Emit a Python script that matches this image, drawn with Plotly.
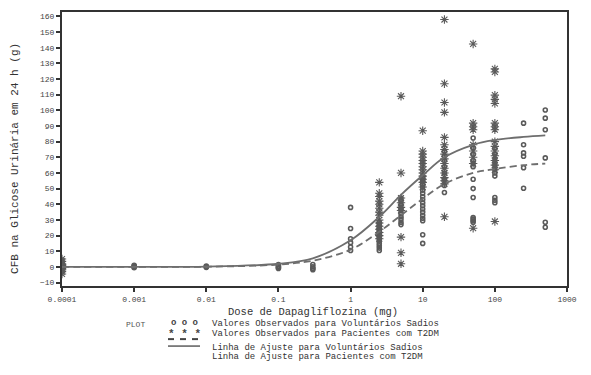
import plotly.graph_objects as go

# ---------------- data ----------------
healthy_dose = (
    [0.0001] * 12 + [0.001] * 4 + [0.01] * 3 + [0.1] * 5 + [0.3] * 4 +
    [1] * 6 + [2.5] * 13 + [5] * 10 + [10] * 17 + [20] * 8 + [50] * 13 +
    [100] * 10 + [250] * 6 + [500] * 6
)
healthy_cfb = (
    [4, 3, 2.5, 2, 1.5, 1, 0.5, 0, -0.5, -1, -1.5, 0.8] +
    [1, 0.5, 0, -0.5] +
    [0.5, 0, -0.3] +
    [1.5, 0.5, 0, -0.5, -1] +
    [1.5, 0, -1, -1.8] +
    [38, 24.5, 18, 15.5, 12.7, 10.5] +
    [28.5, 27, 25.5, 24, 22.5, 21, 19.5, 18, 16.5, 15, 13.5, 12, 10.5] +
    [44, 42, 40, 38, 36, 34, 32, 30.5, 28.5, 27] +
    [57, 55, 53, 51, 49, 47, 45, 43, 41, 39, 37, 35, 33, 31, 29.5, 20.5, 15] +
    [74, 71, 68, 64, 60, 56, 52, 47.5] +
    [82.3, 76, 72, 68, 66, 64, 56, 50, 44.3, 31.5, 30.5, 29.5, 28.5] +
    [76, 72, 68, 65, 62, 60, 58, 44.3, 42.5, 41] +
    [91.8, 78, 72.8, 70.7, 63.3, 50.2] +
    [100.2, 95, 87.6, 69.6, 28.5, 25.3]
)

t2dm_dose = (
    [0.0001] * 12 + [2.5] * 15 + [5] * 9 + [10] * 13 + [20] * 16 +
    [50] * 9 + [100] * 16
)
t2dm_cfb = (
    [5, 3.5, 2, 1, 0, -1, -2, -3, -4.5, 1.5, -1.5, 0.5] +
    [54, 47, 45, 42, 40, 37.5, 35, 33, 30, 28, 26, 24, 22, 20, 18] +
    [109, 60, 44, 41, 38, 36, 19, 9, 2] +
    [87, 74, 72, 70, 68, 66, 64, 62, 60, 58, 56, 54, 51] +
    [158, 117, 105, 98.7, 82.7, 78, 75, 72, 69, 66, 63, 60, 57, 55, 53, 32] +
    [142.4, 91.8, 89.5, 87.6, 78, 74, 70, 66, 24.7] +
    [126.5, 124.5, 109.7, 107, 104.4, 91.8, 89.5, 87.6, 80, 77, 74, 71, 68, 65, 62, 29]
)

fit_dose = [0.0001, 0.001, 0.01, 0.1, 0.3, 1, 2.5, 5, 10, 20, 50, 100, 250, 500]
fit_healthy = [0, 0, 0.2, 2, 5.5, 17, 32, 46, 58.5, 70, 78, 81, 83, 84]
fit_t2dm = [0, 0, 0.1, 1.5, 4, 11, 22.5, 33, 43.5, 53, 60, 62.5, 65, 66]

x_tickvals = [0.0001, 0.001, 0.01, 0.1, 1, 10, 100, 1000]
x_ticktext = ["0.0001", "0.001", "0.01", "0.1", "1", "10", "100", "1000"]
y_tickvals = list(range(-10, 161, 10))

legend_labels = [
    "Valores Observados para Voluntários Sadios",
    "Valores Observados para Pacientes com T2DM",
    "Linha de Ajuste para Voluntários Sadios",
    "Linha de Ajuste para Pacientes com T2DM",
]

# ---------------- figure ----------------
MONO = "Liberation Mono, Courier New, monospace"
PT_COL = "#5a5a5a"
LINE_COL = "#6e6e6e"

fig = go.Figure()
fig.add_trace(go.Scatter(
    x=healthy_dose, y=healthy_cfb, mode="markers", showlegend=False,
    marker=dict(symbol="circle-open", size=4, color=PT_COL, line=dict(width=1.6, color=PT_COL)),
))
fig.add_trace(go.Scatter(
    x=t2dm_dose, y=t2dm_cfb, mode="markers", showlegend=False,
    marker=dict(symbol="asterisk-open", size=7, color=PT_COL, line=dict(width=1.1, color=PT_COL)),
))
fig.add_trace(go.Scatter(
    x=fit_dose, y=fit_t2dm, mode="lines", line_shape="spline", showlegend=False,
    line=dict(color=LINE_COL, width=1.8, dash="7px,4px"),
))
fig.add_trace(go.Scatter(
    x=fit_dose, y=fit_healthy, mode="lines", line_shape="spline", showlegend=False,
    line=dict(color=LINE_COL, width=1.8),
))

# page has an 8px body margin: work in page pixels, convert to figure
OFF = 8
W, H = 591 - 2 * OFF, 375 - 2 * OFF
L, R, T, B = 62, 567, 10, 286  # plot area in page pixels


def px(xp):
    return (xp - L) / (R - L)


def py(yp):
    return (B - yp) / (B - T)


def note(text, xp, yp, size, color="#333", xanchor="center", angle=0):
    return dict(text=text, x=px(xp), y=py(yp), xref="paper", yref="paper",
                xanchor=xanchor, yanchor="middle", textangle=angle,
                showarrow=False, font=dict(family=MONO, size=size, color=color))


annotations = [
    note("PLOT", 135, 325, 8, "#555"),
    note("<b>o o o</b>", 184, 323.5, 9, "#444"),
    note("<b>* * *</b>", 184, 334.5, 11, "#444"),
    note("CFB na Glicose Urinária em 24 h (g)", 15, 158, 11, angle=-90),
    note("Dose de Dapagliflozina (mg)", 313, 312, 10.5),
]
for lbl, yp in zip(legend_labels, [324.5, 334, 348, 357.5]):
    annotations.append(note(lbl, 210, yp, 9, xanchor="left"))

shapes = []
for x0 in (168, 180, 192):
    shapes.append(dict(type="line", xref="paper", yref="paper",
                       x0=px(x0), x1=px(x0 + 6), y0=py(339.5), y1=py(339.5),
                       line=dict(color="#444", width=2)))
shapes.append(dict(type="line", xref="paper", yref="paper",
                   x0=px(168), x1=px(200), y0=py(346.5), y1=py(346.5),
                   line=dict(color="#444", width=1.3)))

fig.update_layout(
    width=W, height=H,
    margin=dict(l=L - OFF, r=W - (R - OFF), t=T - OFF, b=H - (B - OFF)),
    paper_bgcolor="white", plot_bgcolor="white",
    font=dict(family=MONO, color="#333"),
    annotations=annotations, shapes=shapes,
    xaxis=dict(
        type="log", range=[-4, 3], tickvals=x_tickvals, ticktext=x_ticktext,
        showgrid=False, zeroline=False, showline=True, mirror=True,
        linecolor="#333", linewidth=2, ticks="outside", ticklen=4, tickwidth=1.5,
        tickcolor="#333", tickfont=dict(family=MONO, size=8, color="#444"),
    ),
    yaxis=dict(
        range=[-12.2, 162.8], tickvals=y_tickvals,
        showgrid=False, zeroline=False, showline=True, mirror=True,
        linecolor="#333", linewidth=2, ticks="outside", ticklen=4, tickwidth=1.5,
        tickcolor="#333", tickfont=dict(family=MONO, size=8, color="#444"),
    ),
)

fig.write_html("out.html")
